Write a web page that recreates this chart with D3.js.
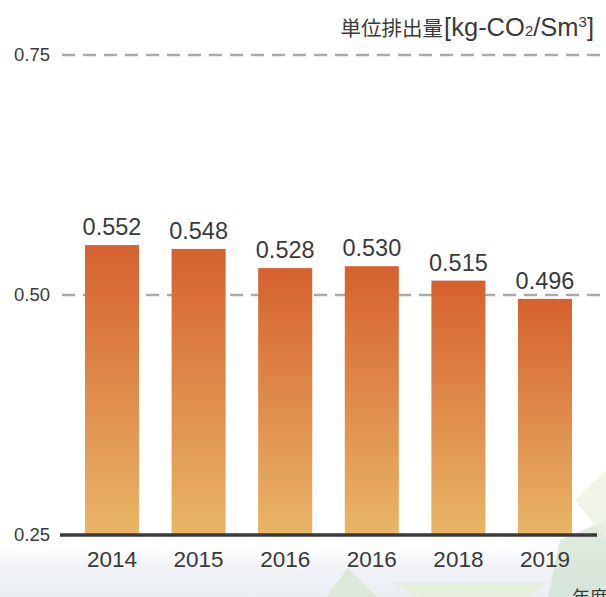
<!DOCTYPE html>
<html>
<head>
<meta charset="utf-8">
<script src="https://cdn.jsdelivr.net/npm/d3@7"></script>
<style>
  html, body { margin: 0; padding: 0; background: #fff; }
  svg { display: block; }
  text { font-family: "Liberation Sans", Arial, "Noto Sans CJK JP", sans-serif; fill: #3a3a3a; }
</style>
</head>
<body>
<svg id="chart" width="606" height="597"></svg>
<script>
// data
const years = ['2014', '2015', '2016', '2016', '2018', '2019']
const values = [0.552, 0.548, 0.528, 0.530, 0.515, 0.496]
const tickValues = [0.25, 0.50, 0.75]
const unitLabel = '単位排出量'
const xLabel = '年度'

const W = 606, H = 597
const svg = d3.select('#chart')

// gradient for bars (per bar, top dark -> bottom light)
const defs = svg.append('defs')
const grad = defs.append('linearGradient')
  .attr('id', 'barGrad')
  .attr('x1', 0).attr('y1', 0).attr('x2', 0).attr('y2', 1)
grad.append('stop').attr('offset', '0%').attr('stop-color', '#d6612e')
grad.append('stop').attr('offset', '50%').attr('stop-color', '#df8b4a')
grad.append('stop').attr('offset', '100%').attr('stop-color', '#e9b667')

const bgGrad = defs.append('linearGradient')
  .attr('id', 'bgGrad')
  .attr('x1', 0).attr('y1', 0).attr('x2', 0).attr('y2', 1)
bgGrad.append('stop').attr('offset', '0%').attr('stop-color', '#ffffff')
bgGrad.append('stop').attr('offset', '40%').attr('stop-color', '#f1f3f7')
bgGrad.append('stop').attr('offset', '100%').attr('stop-color', '#eaeef3')

// faint background decoration at the bottom
const bg = svg.append('g')
bg.append('rect').attr('x', 0).attr('y', 545).attr('width', W).attr('height', H - 545)
  .attr('fill', 'url(#bgGrad)')
const shapes = [
  [[348, 568], [326, 597], [378, 597]],
  [[392, 583], [548, 583], [528, 597], [418, 597]],
  [[560, 540], [606, 520], [606, 597], [548, 597]],
  [[575, 500], [606, 470], [606, 540]]
]
bg.selectAll('polygon').data(shapes).join('polygon')
  .attr('points', d => d.map(p => p.join(',')).join(' '))
  .attr('fill', (d, i) => ['#d5e6cc', '#e4eed2', '#cfe2cf', '#e9f1de'][i])
  .attr('opacity', 0.7)

// scales
const x = d3.scaleBand()
  .domain(d3.range(years.length))
  .range([68.7, 588.3])
  .paddingInner(0.376)
  .paddingOuter(0.188)

const y = d3.scaleLinear()
  .domain([0.25, 0.75])
  .range([535, 55])

// dashed gridlines
svg.append('g').selectAll('line')
  .data(tickValues.filter(v => v > 0.25))
  .join('line')
  .attr('x1', 62).attr('x2', 604)
  .attr('y1', d => y(d)).attr('y2', d => y(d))
  .attr('stroke', '#aaaaaa')
  .attr('stroke-width', 2.5)
  .attr('stroke-dasharray', '13 8')

// y axis tick labels
const yAxis = d3.axisLeft(y)
  .tickValues(tickValues)
  .tickFormat(d3.format('.2f'))
  .tickSize(0)
  .tickPadding(0)
const yg = svg.append('g').attr('transform', 'translate(50,0)').call(yAxis)
yg.select('.domain').remove()
yg.selectAll('text')
  .attr('font-size', 18.5)
  .attr('fill', '#3a3a3a')
  .style('font-family', '"Liberation Sans", Arial, sans-serif')

// bars
svg.append('g').selectAll('rect')
  .data(values)
  .join('rect')
  .attr('x', (d, i) => x(i))
  .attr('width', x.bandwidth())
  .attr('y', d => y(d))
  .attr('height', d => y(0.25) - y(d))
  .attr('fill', 'url(#barGrad)')

// value labels
svg.append('g').selectAll('text')
  .data(values)
  .join('text')
  .attr('x', (d, i) => x(i) + x.bandwidth() / 2)
  .attr('y', d => y(d) - 10)
  .attr('text-anchor', 'middle')
  .attr('font-size', 23.5)
  .text(d => d3.format('.3f')(d))

// baseline
svg.append('line')
  .attr('x1', 60).attr('x2', 597)
  .attr('y1', y(0.25)).attr('y2', y(0.25))
  .attr('stroke', '#3a3a3a')
  .attr('stroke-width', 3.5)

// x axis labels
const xAxis = d3.axisBottom(x)
  .tickFormat(i => years[i])
  .tickSize(0)
  .tickPadding(0)
const xg = svg.append('g').attr('transform', 'translate(0,551)').call(xAxis)
xg.select('.domain').remove()
xg.selectAll('text')
  .attr('font-size', 22.5)
  .attr('fill', '#3a3a3a')
  .style('font-family', '"Liberation Sans", Arial, sans-serif')

// unit label (top right)
const unit = svg.append('text')
  .attr('x', 594).attr('y', 36)
  .attr('text-anchor', 'end')
  .attr('font-size', 25.5)
unit.append('tspan').attr('font-size', 20.5).style('font-family', '"Noto Sans CJK JP", sans-serif').text(unitLabel)
unit.append('tspan').attr('dx', 1).text('[kg-CO')
unit.append('tspan').attr('font-size', 15).text('2')
unit.append('tspan').text('/Sm')
unit.append('tspan').attr('font-size', 15).attr('dy', -9).text('3')
unit.append('tspan').attr('dy', 9).text(']')

// x label bottom right
svg.append('text')
  .attr('x', 572).attr('y', 604)
  .attr('font-size', 18)
  .style('font-family', '"Noto Sans CJK JP", sans-serif')
  .text(xLabel)
</script>
</body>
</html>
